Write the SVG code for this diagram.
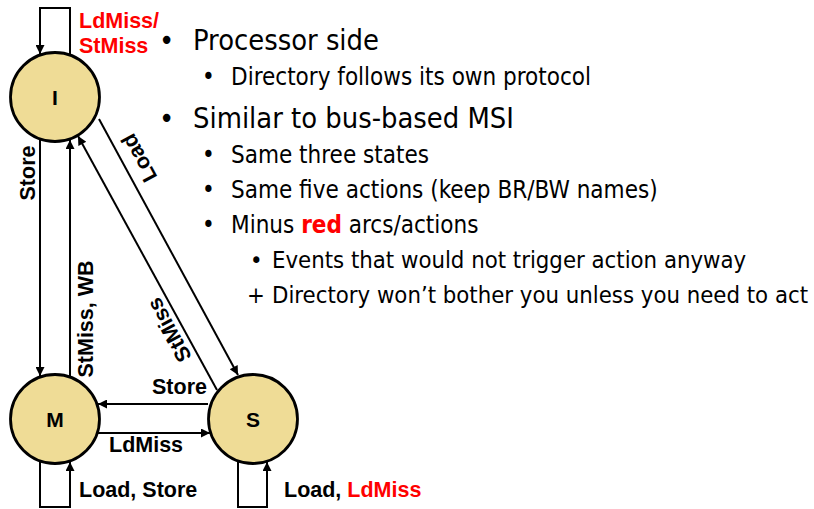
<svg xmlns="http://www.w3.org/2000/svg" width="814" height="509" viewBox="0 0 814 509">
  <style>
    .state { fill: #EFDC96; stroke: #000; stroke-width: 2.8; }
    .state-label { font-family: "Liberation Sans", Arial, sans-serif; font-weight: bold; font-size: 21px; text-anchor: middle; fill: #000; }
    .edge { fill: none; stroke: #000; stroke-width: 2; }
    .edge-label { font-family: "Liberation Sans", Arial, sans-serif; font-weight: bold; font-size: 21.5px; fill: #000; }
    .red { fill: #FF0000; }
    .l1 { font-family: "DejaVu Sans Condensed", "DejaVu Sans", sans-serif; font-size: 28.8px; fill: #000; }
    .l2 { font-family: "DejaVu Sans Condensed", "DejaVu Sans", sans-serif; font-size: 24px; fill: #000; }
    .l3 { font-family: "DejaVu Sans Condensed", "DejaVu Sans", sans-serif; font-size: 23.7px; fill: #000; }
    .bold { font-weight: bold; }
  </style>
  <defs>
    <marker id="arrow" viewBox="0 0 10 10" refX="10" refY="5" markerWidth="11" markerHeight="9" markerUnits="userSpaceOnUse" orient="auto">
      <path d="M0,0 L10,5 L0,10 z" fill="#000"/>
    </marker>
  </defs>

  <!-- transitions -->
  <g id="connectors">
    <path class="edge" d="M70,55 V8 H40 V54" marker-end="url(#arrow)"/>
    <path class="edge" d="M40,139 V376" marker-end="url(#arrow)"/>
    <path class="edge" d="M70,377 V140" marker-end="url(#arrow)"/>
    <path class="edge" d="M99,119 L238,375" marker-end="url(#arrow)"/>
    <path class="edge" d="M217,390 L78,136" marker-end="url(#arrow)"/>
    <path class="edge" d="M208,404 H98" marker-end="url(#arrow)"/>
    <path class="edge" d="M97,433 H210" marker-end="url(#arrow)"/>
    <path class="edge" d="M40,461 V507 H70 V462" marker-end="url(#arrow)"/>
    <path class="edge" d="M238,461 V507 H267 V462" marker-end="url(#arrow)"/>

    <text class="edge-label red" x="79" y="28">LdMiss/</text>
    <text class="edge-label red" x="79" y="53">StMiss</text>
    <text class="edge-label" transform="translate(35,173) rotate(-90)" text-anchor="middle">Store</text>
    <text class="edge-label" transform="translate(93,319) rotate(-90)" text-anchor="middle">StMiss, WB</text>
    <text class="edge-label" transform="translate(139,158) rotate(-118.5)" text-anchor="middle" y="7.5">Load</text>
    <text class="edge-label" transform="translate(169,330) rotate(-118.5)" text-anchor="middle" y="7.5">StMiss</text>
    <text class="edge-label" x="207" y="394" text-anchor="end">Store</text>
    <text class="edge-label" x="109" y="452">LdMiss</text>
    <text class="edge-label" x="79" y="497">Load, Store</text>
    <text class="edge-label" x="284" y="497">Load, <tspan class="red">LdMiss</tspan></text>
  </g>

  <!-- states -->
  <g id="state-I">
    <circle class="state" cx="55" cy="97" r="44.5"/>
    <text class="state-label" x="55" y="105">I</text>
  </g>
  <g id="state-M">
    <circle class="state" cx="55" cy="419" r="44.5"/>
    <text class="state-label" x="55" y="427">M</text>
  </g>
  <g id="state-S">
    <circle class="state" cx="253" cy="419" r="44.5"/>
    <text class="state-label" x="253" y="427">S</text>
  </g>

  <!-- notes -->
  <g id="notes">
    <text class="l1" y="50"><tspan x="159">•</tspan><tspan x="193">Processor side</tspan></text>
    <text class="l2" y="85"><tspan x="202">•</tspan><tspan x="231">Directory follows its own protocol</tspan></text>
    <text class="l1" y="128"><tspan x="159">•</tspan><tspan x="193">Similar to bus-based MSI</tspan></text>
    <text class="l2" y="163"><tspan x="202">•</tspan><tspan x="231">Same three states</tspan></text>
    <text class="l2" y="198"><tspan x="202">•</tspan><tspan x="231">Same five actions (keep BR/BW names)</tspan></text>
    <text class="l2" y="233"><tspan x="202">•</tspan><tspan x="231">Minus </tspan><tspan class="bold red">red</tspan><tspan> arcs/actions</tspan></text>
    <text class="l3" y="268"><tspan x="250">•</tspan><tspan x="272">Events that would not trigger action anyway</tspan></text>
    <text class="l3" y="303"><tspan x="247">+</tspan><tspan x="272">Directory won’t bother you unless you need to act</tspan></text>
  </g>
</svg>
